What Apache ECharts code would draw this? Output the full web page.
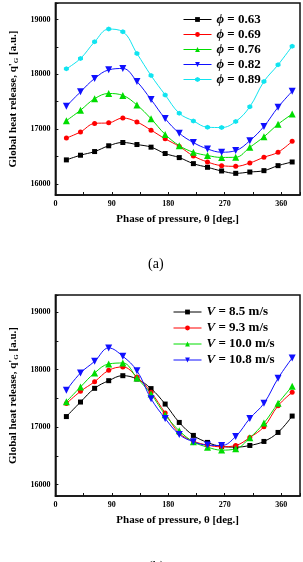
<!DOCTYPE html>
<html>
<head>
<meta charset="utf-8">
<script src="https://cdn.jsdelivr.net/npm/echarts@6/dist/echarts.min.js"></script>
<style>
  html, body { margin: 0; padding: 0; background: #fff; }
  #main { width: 303px; height: 562px; }
</style>
</head>
<body>
<div id="main"></div>
<script>
// phase of pressure (deg), same for both panels
var phase = [17.5, 40, 62.5, 85, 107.5, 130, 152.5, 175, 197.5, 220, 242.5, 265, 287.5, 310, 332.5, 355, 377.5];

// panel (a): equivalence ratio
var phiNames = ['0.63', '0.69', '0.76', '0.82', '0.89'];
var phi063 = [16440, 16525, 16592, 16697, 16757, 16720, 16672, 16556, 16482, 16372, 16305, 16238, 16195, 16219, 16244, 16335, 16402];
var phi069 = [16838, 16950, 17105, 17115, 17203, 17130, 16982, 16825, 16685, 16512, 16402, 16335, 16323, 16384, 16488, 16580, 16780];
var phi076 = [17155, 17345, 17555, 17650, 17615, 17440, 17190, 16905, 16700, 16580, 16520, 16485, 16488, 16670, 16862, 17090, 17275];
var phi082 = [17418, 17680, 17923, 18081, 18106, 17869, 17540, 17193, 16927, 16756, 16640, 16580, 16610, 16790, 17050, 17400, 17690];
var phi089 = [18100, 18288, 18592, 18824, 18775, 18380, 17978, 17625, 17290, 17150, 17035, 17030, 17140, 17410, 17869, 18173, 18513];

// panel (b): velocity
var velNames = ['8.5', '9.3', '10.0', '10.8'];
var v85  = [17183, 17436, 17675, 17808, 17895, 17837, 17670, 17401, 17081, 16855, 16733, 16663, 16651, 16680, 16750, 16907, 17192];
var v93  = [17410, 17622, 17790, 17988, 18047, 17872, 17605, 17244, 16895, 16756, 16686, 16657, 16680, 16820, 17006, 17372, 17605];
var v100 = [17442, 17698, 17942, 18099, 18116, 17855, 17576, 17215, 16936, 16744, 16651, 16599, 16622, 16814, 17070, 17413, 17709];
var v108 = [17640, 17942, 18145, 18378, 18233, 17980, 17494, 17151, 16872, 16744, 16686, 16680, 16837, 17151, 17413, 17849, 18203];

var xTicks = [0, 90, 180, 270, 360];
var yTicks = [16000, 17000, 18000, 19000];

var colors = ['#000000', '#ff0000', '#00dd00', '#1010ff', '#10e4f0'];
var hexagon = 'path://M0,-1L0.866,-0.5L0.866,0.5L0,1L-0.866,0.5L-0.866,-0.5Z';
var symbols = ['rect', 'circle', 'triangle', 'path://M-1,-0.9L1,-0.9L0,0.9Z', hexagon];
var FONT = 'Liberation Serif';

var chart = echarts.init(document.getElementById('main'));

function pairs(vals) {
    return phase.map(function (x, i) { return [x, vals[i]]; });
}

function mkSeries(name, vals, k, idx) {
    return {
        name: name,
        type: 'line',
        xAxisIndex: idx,
        yAxisIndex: idx,
        smooth: 0.4,
        symbol: symbols[k],
        symbolSize: k === 2 || k === 3 ? 7 : 5,
        color: colors[k],
        lineStyle: {width: 1, color: colors[k]},
        itemStyle: {color: colors[k]},
        data: pairs(vals)
    };
}

function xAx(idx) {
    return {
        type: 'value', gridIndex: idx, min: 0, max: 390, interval: 45,
        name: 'Phase of pressure, θ [deg.]',
        nameLocation: 'middle', nameGap: 19,
        nameTextStyle: {fontFamily: FONT, fontWeight: 'bold', fontSize: 11, color: '#000'},
        axisLine: {lineStyle: {color: '#111', width: 1.5}},
        axisTick: {inside: true, length: 3, lineStyle: {color: '#111'}},
        axisLabel: {
            margin: 5, fontFamily: FONT, fontWeight: 'bold', fontSize: 8, color: '#000',
            formatter: function (v) { return xTicks.indexOf(v) >= 0 ? v : ''; }
        },
        splitLine: {show: false}
    };
}

function yAx(idx) {
    return {
        type: 'value', gridIndex: idx, min: 15800, max: 19300, splitNumber: 7,
        name: "Global heat release, q'{sub|G} [a.u.]",
        nameLocation: 'middle', nameGap: 34,
        nameTextStyle: {
            fontFamily: FONT, fontWeight: 'bold', fontSize: 11, color: '#000',
            rich: {sub: {fontFamily: FONT, fontWeight: 'bold', fontSize: 7, color: '#000', verticalAlign: 'bottom', padding: [5, 0, 0, 0]}}
        },
        axisLine: {lineStyle: {color: '#111', width: 1.5}},
        axisTick: {inside: true, length: 3, lineStyle: {color: '#111'}},
        axisLabel: {
            margin: 5, fontFamily: FONT, fontWeight: 'bold', fontSize: 8, color: '#000',
            formatter: function (v) { return yTicks.indexOf(v) >= 0 ? v : ''; }
        },
        splitLine: {show: false}
    };
}

var legendText = {
    fontFamily: FONT, fontWeight: 'bold', fontSize: 13, color: '#000',
    rich: {i: {fontFamily: FONT, fontWeight: 'bold', fontStyle: 'italic', fontSize: 13, color: '#000'}}
};

var series = [
    mkSeries(phiNames[0], phi063, 0, 0),
    mkSeries(phiNames[1], phi069, 1, 0),
    mkSeries(phiNames[2], phi076, 2, 0),
    mkSeries(phiNames[3], phi082, 3, 0),
    mkSeries(phiNames[4], phi089, 4, 0),
    mkSeries(velNames[0], v85, 0, 1),
    mkSeries(velNames[1], v93, 1, 1),
    mkSeries(velNames[2], v100, 2, 1),
    mkSeries(velNames[3], v108, 3, 1)
];

var option = {
    animation: false,
    backgroundColor: '#fff',
    title: [
        {text: '(a)', left: 143, top: 252, textStyle: {fontFamily: FONT, fontWeight: 'normal', fontSize: 14, color: '#000'}},
        {text: '(b)', left: 143, top: 555, textStyle: {fontFamily: FONT, fontWeight: 'normal', fontSize: 14, color: '#000'}}
    ],
    grid: [
        {left: 47, top: 3, right: 2, height: 192, show: true, borderColor: '#111', borderWidth: 1.5},
        {left: 49, top: 295, right: 1, height: 201, show: true, borderColor: '#111', borderWidth: 1.5}
    ],
    legend: [
        {
            data: phiNames, orient: 'vertical', left: 178, top: 7,
            itemWidth: 28, itemHeight: 6, itemGap: 0,
            lineStyle: {width: 1},
            textStyle: Object.assign({lineHeight: 15}, legendText),
            formatter: function (n) { return '{i|ϕ} = ' + n; }
        },
        {
            data: velNames, orient: 'vertical', left: 168, top: 299,
            itemWidth: 28, itemHeight: 6, itemGap: 0,
            lineStyle: {width: 1},
            textStyle: Object.assign({lineHeight: 16}, legendText),
            formatter: function (n) { return '{i|V} = ' + n + ' m/s'; }
        }
    ],
    xAxis: [xAx(0), xAx(1)],
    yAxis: [yAx(0), yAx(1)],
    series: series
};

chart.setOption(option);
</script>
</body>
</html>
